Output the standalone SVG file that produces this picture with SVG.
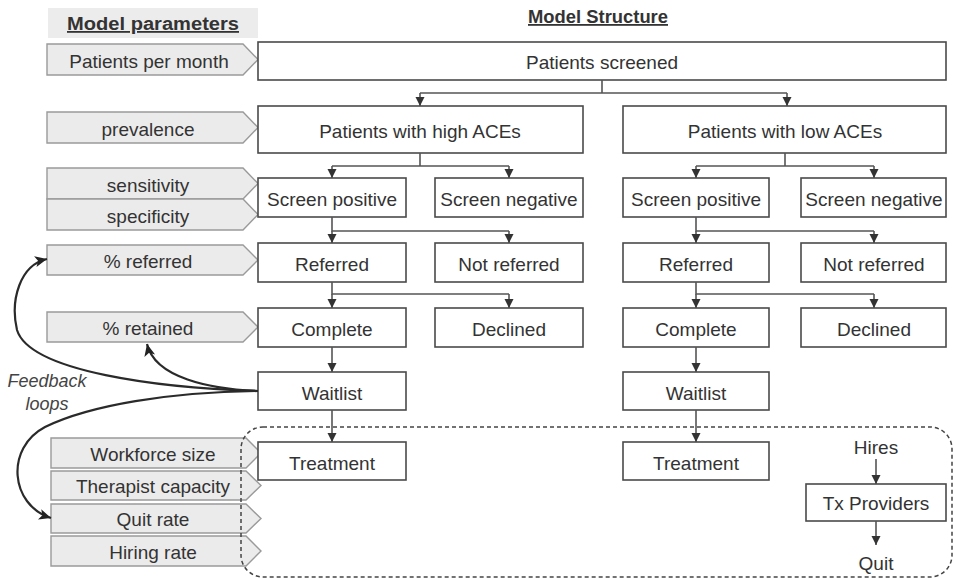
<svg xmlns="http://www.w3.org/2000/svg" width="954" height="580" viewBox="0 0 954 580">
<defs>
<marker id="ah" markerWidth="10" markerHeight="10" refX="9" refY="5" orient="auto" markerUnits="userSpaceOnUse">
<path d="M0,0.5 L9,5 L0,9.5 Z" fill="#333"/>
</marker>
<marker id="fh" markerWidth="14" markerHeight="14" refX="12" refY="7" orient="auto" markerUnits="userSpaceOnUse">
<path d="M0,1.5 L12,7 L0,12.5 L3,7 Z" fill="#222"/>
</marker>
<style>
.box{fill:#fff;stroke:#4a4a4a;stroke-width:1.6}
.par{fill:#ebebeb;stroke:#9a9a9a;stroke-width:1.4}
.t{font-family:"Liberation Sans",Arial,sans-serif;font-size:19px;fill:#333;text-anchor:middle}
.h{font-family:"Liberation Sans",Arial,sans-serif;font-size:18px;font-weight:bold;fill:#333;text-anchor:middle;text-decoration:underline}
.fb{font-family:"Liberation Sans",Arial,sans-serif;font-size:18px;font-style:italic;fill:#444;text-anchor:middle}
.c{fill:none;stroke:#555;stroke-width:1.6}
.ca{fill:none;stroke:#555;stroke-width:1.6;marker-end:url(#ah)}
.fla{fill:none;stroke:#2a2a2a;stroke-width:2.2;marker-end:url(#fh)}
</style>
</defs>
<rect width="954" height="580" fill="#fff"/>

<g id="headers">
<rect x="48" y="8" width="210" height="30" fill="#ececec"/>
<text class="h" x="153" y="30" textLength="172" lengthAdjust="spacingAndGlyphs">Model parameters</text>
<text class="h" x="598" y="23" textLength="140" lengthAdjust="spacingAndGlyphs">Model Structure</text>
</g>

<g id="parameters">
<g id="p-ppm"><polygon class="par" points="47,44 243,44 258,59.5 243,75 47,75"/><text class="t" x="149" y="68">Patients per month</text></g>
<g id="p-prev"><polygon class="par" points="47,112 243,112 258,127.5 243,143 47,143"/><text class="t" x="148" y="136">prevalence</text></g>
<g id="p-sens"><polygon class="par" points="47,168 243,168 258,183.5 243,199 47,199"/><text class="t" x="148" y="192">sensitivity</text></g>
<g id="p-spec"><polygon class="par" points="47,199 243,199 258,214.5 243,230 47,230"/><text class="t" x="148" y="223">specificity</text></g>
<g id="p-ref"><polygon class="par" points="47,245 243,245 258,260 243,275 47,275"/><text class="t" x="148" y="268">% referred</text></g>
<g id="p-ret"><polygon class="par" points="47,312 243,312 258,327 243,342 47,342"/><text class="t" x="148" y="335">% retained</text></g>
<g id="p-wf"><polygon class="par" points="51,438 246,438 261,453 246,468 51,468"/><text class="t" x="153" y="461">Workforce size</text></g>
<g id="p-tc"><polygon class="par" points="51,471 246,471 261,485.5 246,500 51,500"/><text class="t" x="153" y="493">Therapist capacity</text></g>
<g id="p-qr"><polygon class="par" points="51,504 246,504 261,518.5 246,533 51,533"/><text class="t" x="153" y="526">Quit rate</text></g>
<g id="p-hr"><polygon class="par" points="51,536 246,536 261,551 246,566 51,566"/><text class="t" x="153" y="559">Hiring rate</text></g>
</g>

<g id="workforce-region">
<rect x="241" y="427" width="711" height="150" rx="22" ry="22" fill="none" stroke="#444" stroke-width="1.5" stroke-dasharray="4,3"/>
</g>

<g id="nodes">
<g id="n-screened"><rect class="box" x="258" y="42" width="688" height="38"/><text class="t" x="602" y="69">Patients screened</text></g>
<g id="n-high"><rect class="box" x="258" y="106" width="325" height="47"/><text class="t" x="420" y="138">Patients with high ACEs</text></g>
<g id="n-low"><rect class="box" x="623" y="106" width="323" height="47"/><text class="t" x="785" y="138">Patients with low ACEs</text></g>
<g id="n-hsp"><rect class="box" x="258" y="178" width="148" height="39"/><text class="t" x="332" y="206">Screen positive</text></g>
<g id="n-hsn"><rect class="box" x="435" y="178" width="148" height="39"/><text class="t" x="509" y="206">Screen negative</text></g>
<g id="n-lsp"><rect class="box" x="623" y="178" width="146" height="39"/><text class="t" x="696" y="206">Screen positive</text></g>
<g id="n-lsn"><rect class="box" x="801" y="178" width="145" height="39"/><text class="t" x="874" y="206">Screen negative</text></g>
<g id="n-href"><rect class="box" x="258" y="243" width="148" height="39"/><text class="t" x="332" y="271">Referred</text></g>
<g id="n-hnr"><rect class="box" x="435" y="243" width="148" height="39"/><text class="t" x="509" y="271">Not referred</text></g>
<g id="n-lref"><rect class="box" x="623" y="243" width="146" height="39"/><text class="t" x="696" y="271">Referred</text></g>
<g id="n-lnr"><rect class="box" x="801" y="243" width="145" height="39"/><text class="t" x="874" y="271">Not referred</text></g>
<g id="n-hcom"><rect class="box" x="258" y="308" width="148" height="39"/><text class="t" x="332" y="336">Complete</text></g>
<g id="n-hdec"><rect class="box" x="435" y="308" width="148" height="39"/><text class="t" x="509" y="336">Declined</text></g>
<g id="n-lcom"><rect class="box" x="623" y="308" width="146" height="39"/><text class="t" x="696" y="336">Complete</text></g>
<g id="n-ldec"><rect class="box" x="801" y="308" width="145" height="39"/><text class="t" x="874" y="336">Declined</text></g>
<g id="n-hwait"><rect class="box" x="258" y="372" width="148" height="38"/><text class="t" x="332" y="400">Waitlist</text></g>
<g id="n-lwait"><rect class="box" x="623" y="372" width="146" height="38"/><text class="t" x="696" y="400">Waitlist</text></g>
<g id="n-htreat"><rect class="box" x="258" y="442" width="148" height="38"/><text class="t" x="332" y="470">Treatment</text></g>
<g id="n-ltreat"><rect class="box" x="623" y="442" width="146" height="38"/><text class="t" x="696" y="470">Treatment</text></g>
<g id="n-hires"><text class="t" x="876" y="454">Hires</text></g>
<g id="n-tx"><rect class="box" x="806" y="484" width="140" height="37"/><text class="t" x="876" y="510">Tx Providers</text></g>
<g id="n-quit"><text class="t" x="876" y="570">Quit</text></g>
</g>

<g id="connectors">
<path class="c" d="M602,80 V93 M420,93 H787"/>
<path class="ca" d="M420,93 V106"/>
<path class="ca" d="M787,93 V106"/>
<path class="c" d="M420,153 V166 M332,166 H509"/>
<path class="ca" d="M332,166 V178"/>
<path class="ca" d="M509,166 V178"/>
<path class="c" d="M785,153 V166 M696,166 H874"/>
<path class="ca" d="M696,166 V178"/>
<path class="ca" d="M874,166 V178"/>
<path class="c" d="M332,217 V231 H509"/>
<path class="ca" d="M332,231 V243"/>
<path class="ca" d="M509,231 V243"/>
<path class="c" d="M696,217 V231 H874"/>
<path class="ca" d="M696,231 V243"/>
<path class="ca" d="M874,231 V243"/>
<path class="c" d="M332,282 V294 H509"/>
<path class="ca" d="M332,294 V308"/>
<path class="ca" d="M509,294 V308"/>
<path class="c" d="M696,282 V294 H874"/>
<path class="ca" d="M696,294 V308"/>
<path class="ca" d="M874,294 V308"/>
<path class="ca" d="M332,347 V372"/>
<path class="ca" d="M696,347 V372"/>
<path class="ca" d="M332,410 V442"/>
<path class="ca" d="M696,410 V442"/>
<path class="ca" d="M876,459 V484"/>
<path class="ca" d="M876,521 V545"/>
<path class="fla" d="M258,391 C160,388 30,372 17,330 C10,300 20,265 47,259"/>
<path class="fla" d="M258,391 C210,389 155,378 147,344"/>
<path class="fla" d="M258,391 C170,392 90,405 45,427 C5,448 10,505 51,518"/>
</g>

<g id="feedback-label">
<text class="fb" x="47" y="387">Feedback</text>
<text class="fb" x="47" y="410">loops</text>
</g>
</svg>
